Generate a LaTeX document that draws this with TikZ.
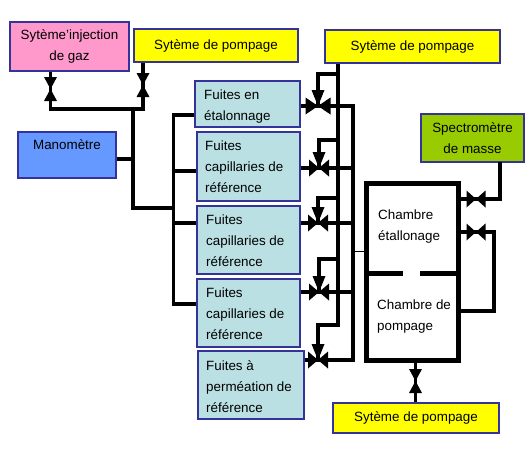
\documentclass[tikz,border=0pt]{standalone}
\usepackage{fontspec}
\setmainfont{Liberation Sans}
\definecolor{boxborder}{RGB}{51,51,153}
\definecolor{boxpink}{RGB}{255,153,204}
\definecolor{boxyellow}{RGB}{255,255,0}
\definecolor{boxblue}{RGB}{102,153,255}
\definecolor{boxteal}{RGB}{187,224,227}
\definecolor{boxgreen}{RGB}{153,204,0}
\tikzset{
	basebox/.style={draw=boxborder,line width=2pt,inner sep=0pt,align=center,
		font=\fontsize{13.4}{21}\selectfont},
	pumpbox/.style={basebox,fill=boxyellow},
	leakbox/.style={basebox,fill=boxteal},
	leaktext/.style={inner sep=0pt,align=left,anchor=west,
		font=\fontsize{13.4}{21}\selectfont},
	pipe/.style={line width=3.5pt,line join=miter},
}
\newcommand{\valveh}[2][10]{
	\fill (#2) -- ++(-#1,-8.5) -- ++(0,17) -- cycle;
	\fill (#2) -- ++(#1,-8.5) -- ++(0,17) -- cycle;}
\newcommand{\valvev}[1]{
	\fill (#1) -- ++(-6.5,-12) -- ++(13,0) -- cycle;
	\fill (#1) -- ++(-6.5,12) -- ++(13,0) -- cycle;}
\newcommand{\valvetip}[1]{\fill (#1) -- ++(-6.5,-16) -- ++(13,0) -- cycle;}

\begin{document}
\begin{tikzpicture}[x=1pt,y=-1pt]
	\useasboundingbox (0,0) rectangle (532,451);
	% boxes
	\node[basebox,fill=boxpink,minimum width=119pt,minimum height=49pt] (injection) at (69.5,46.5) {Sytème'injection\\de gaz};
	\node[pumpbox,minimum width=164pt,minimum height=33pt] (pumpleft) at (216,45.5) {Sytème de pompage};
	\node[pumpbox,minimum width=175pt,minimum height=33pt] (pumpright) at (412.5,46.5) {Sytème de pompage};
	\node[pumpbox,minimum width=166pt,minimum height=30pt] (pumpbottom) at (416,418) {Sytème de pompage};
	\node[basebox,fill=boxblue,minimum width=98pt,minimum height=46pt] (manometer) at (67,155) {Manomètre\\[0pt]~};
	\node[basebox,fill=boxgreen,minimum width=103pt,minimum height=48pt] (spectro) at (472.5,138) {Spectromètre\\de masse};
	\node[leakbox,minimum width=105pt,minimum height=46pt] (fuitesA) at (247.5,104) {};
	\node[leakbox,minimum width=103pt,minimum height=69pt] (fuitesB) at (248.5,166.5) {};
	\node[leakbox,minimum width=103pt,minimum height=68pt] (fuitesC) at (248.5,240) {};
	\node[leakbox,minimum width=103pt,minimum height=68pt] (fuitesD) at (248.5,313) {};
	\node[leakbox,minimum width=106pt,minimum height=68pt] (fuitesE) at (251,385) {};
	\begin{scope}
		\clip (fuitesA.south west) rectangle (fuitesA.north east);
		\node[leaktext] (fuitestextA) at (204,107) {Fuites en\\étalonnage};
	\end{scope}
	\node[leaktext] (fuitestextB) at (205,167) {Fuites\\capillaries de\\référence};
	\node[leaktext] (fuitestextC) at (206,241) {Fuites\\capillaries de\\référence};
	\node[leaktext] (fuitestextD) at (206,314) {Fuites\\capillaries de\\référence};
	\node[leaktext] (fuitestextE) at (206,387) {Fuites à\\perméation de\\référence};

	% chamber
	\coordinate (chambertl) at (366.5,183.5);
	\coordinate (chamberbr) at (458.5,360.5);
	\coordinate (wallleft) at (403,273);
	\coordinate (wallright) at (420,273);
	\draw[line width=5pt] (chambertl) rectangle (chamberbr);
	\draw[line width=5pt] (chambertl |- wallleft) -- (wallleft);
	\draw[line width=5pt] (wallright) -- (chamberbr |- wallright);
	\node[leaktext] (chambertextA) at (378,226.5) {Chambre\\étallonage};
	\node[leaktext] (chambertextB) at (377,316.5) {Chambre de\\pompage};

	% valves
	\coordinate (valveinj) at (50.5,89);
	\coordinate (valvepump) at (143,85);
	\coordinate (valveA) at (318,106);
	\coordinate (valveB) at (319,168);
	\coordinate (valveC) at (318,223);
	\coordinate (valveD) at (319,292);
	\coordinate (valveE) at (318,360);
	\coordinate (valvespec) at (476,199);
	\coordinate (valvecham) at (476,232);
	\coordinate (valvebot) at (415.5,381);

	% left manifold
	\coordinate (busgas) at (133,109);
	\coordinate (busgasend) at (133,208);
	\coordinate (busleak) at (173.5,208);
	\coordinate (stubB) at (173.5,171);
	\coordinate (stubD) at (173.5,304);
	\draw[pipe] (injection.south -| valveinj) -- (valveinj |- busgas) -- (valvepump |- busgas) -- (valvepump |- pumpleft.south);
	\draw[pipe] (busgas) -- (busgasend) -- (busleak);
	\draw[pipe] (manometer.east |- 0,159) -- (133,159);
	\draw[pipe] (fuitesA.west |- 0,115) -- (busleak |- 0,115) -- (stubD) -- (fuitesD.west |- stubD);
	\draw[pipe] (fuitesB.west |- stubB) -- (stubB);
	\draw[pipe] (fuitesC.west |- valveC) -- (busleak |- valveC);

	% right manifold
	\coordinate (busvac) at (338,325);
	\coordinate (busout) at (353,360);
	\draw[pipe] (busvac |- pumpright.south) -- (busvac) -- (valveE |- busvac) -- (valveE);
	\draw[pipe] (busvac |- 0,74) -- (valveA |- 0,74) -- (valveA);
	\draw[pipe] (busvac |- 0,140) -- (valveB |- 0,140) -- (valveB);
	\draw[pipe] (busvac |- 0,198) -- (valveC |- 0,198) -- (valveC);
	\draw[pipe] (busvac |- 0,259) -- (valveD |- 0,259) -- (valveD);
	\draw[pipe] (fuitesA.east |- valveA) -- (busout |- valveA) -- (busout) -- (fuitesE.east |- busout);
	\draw[pipe] (fuitesB.east |- valveB) -- (busout |- valveB);
	\draw[pipe] (fuitesC.east |- valveC) -- (busout |- valveC);
	\draw[pipe] (fuitesD.east |- valveD) -- (busout |- valveD);
	\draw[line width=1pt] (busout |- 0,251.5) -- (chambertl |- 0,251.5);

	% chamber connections
	\draw[pipe] (chamberbr |- valvespec) -- (500,199) -- (500,162);
	\draw[pipe] (chamberbr |- valvecham) -- (494,232) -- (494,311) -- (chamberbr |- 0,311);
	\draw[pipe] (valvebot |- chamberbr) -- (valvebot |- pumpbottom.north);

	\valvev{valveinj}
	\valvev{valvepump}
	\valveh[12.5]{valveA}
	\valveh{valveB}
	\valveh{valveC}
	\valveh{valveD}
	\valveh{valveE}
	\valvetip{valveA}
	\valvetip{valveB}
	\valvetip{valveC}
	\valvetip{valveD}
	\valvetip{valveE}
	\valveh[9.5]{valvespec}
	\valveh[9.5]{valvecham}
	\valvev{valvebot}
\end{tikzpicture}
\end{document}
